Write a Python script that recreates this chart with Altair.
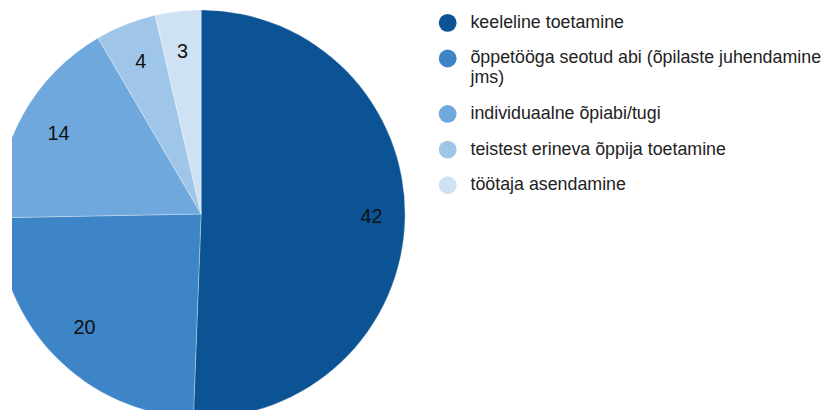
import altair as alt
import pandas as pd

categories = [
    "keeleline toetamine",
    "õppetööga seotud abi (õpilaste juhendamine jms)",
    "individuaalne õpiabi/tugi",
    "teistest erineva õppija toetamine",
    "töötaja asendamine",
]
values = [42, 20, 14, 4, 3]
colors = ["#0b5394", "#3d85c6", "#6fa8dc", "#9fc5e8", "#cfe2f3"]

df = pd.DataFrame({"kategooria": categories, "vaartus": values, "jrk": list(range(len(values)))})

cx, cy, r = 191, 206, 206

label_expr = (
    "datum.label == 'õppetööga seotud abi (õpilaste juhendamine jms)' ? "
    "['õppetööga seotud abi (õpilaste juhendamine', 'jms)'] : datum.label"
)

arcs = alt.Chart(df).mark_arc(outerRadius=r, clip=True, stroke="white", strokeWidth=0.3).encode(
    theta=alt.Theta("vaartus:Q", stack=True),
    order=alt.Order("jrk:Q"),
    x=alt.value(cx),
    y=alt.value(cy),
    color=alt.Color(
        "kategooria:N",
        scale=alt.Scale(domain=categories, range=colors),
        sort=categories,
        legend=alt.Legend(
            title=None,
            orient="none",
            legendX=431,
            legendY=4,
            symbolType="circle",
            symbolSize=324,
            symbolStrokeWidth=0,
            labelFont="Liberation Sans",
            labelFontSize=18,
            labelColor="#222222",
            labelLimit=400,
            labelOffset=14,
            labelExpr=label_expr,
            rowPadding=18,
        ),
    ),
)

texts = (
    alt.Chart(df)
    .mark_text(fontSize=20, font="Liberation Sans", color="#111111")
    .transform_window(cum="sum(vaartus)", sort=[alt.SortField("jrk")], frame=[None, 0])
    .transform_calculate(mid="datum.cum - datum.vaartus / 2", rr="datum.jrk == 0 ? 172 : 165")
    .encode(
        theta=alt.Theta("mid:Q", stack=None),
        x=alt.value(cx),
        y=alt.value(cy),
        radius=alt.Radius("rr:Q", scale=None),
        text=alt.Text("vaartus:Q"),
    )
)

chart = (
    alt.layer(arcs, texts)
    .properties(
        width=818,
        height=404,
        padding={"left": 4, "top": 0, "right": 0, "bottom": 0},
        autosize=alt.AutoSizeParams(type="none"),
    )
    .configure_view(stroke=None)
)

chart.save("out.html", embed_options={"renderer": "svg", "actions": False})
